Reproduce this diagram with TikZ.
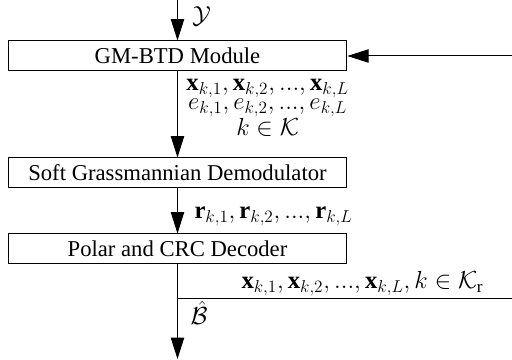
\RequirePackage{fix-cm}
\documentclass[tikz,border=0pt]{standalone}
\usepackage{fontspec}
\setmainfont{Liberation Serif}
\usetikzlibrary{arrows.meta}

\tikzset{every picture/.style={line width=0.75pt}}
\tikzset{
  blk/.style={draw, minimum width=254pt, minimum height=22.5pt, inner sep=0pt, font=\fontsize{17}{20}\selectfont},
  lbl/.style={inner sep=0.75pt, font=\fontsize{18.5}{13}\selectfont},
  arr/.style={-{Triangle[width=10pt,length=16pt]}}
}

\begin{document}
\begin{tikzpicture}[x=0.75pt,y=0.75pt,yscale=-1,xscale=1]
\path[use as bounding box] (0,0) rectangle (512,360);

%Shape: Rectangle
\node[blk] (gm) at (177.5,56) {GM-BTD Module};
%Shape: Rectangle
\node[blk] (sgd) at (177.5,173) {Soft Grassmannian Demodulator};
%Shape: Rectangle
\node[blk] (dec) at (177.5,249) {Polar and CRC Decoder};

\coordinate (in) at (177.5,0);
\coordinate (out) at (177.5,359);
\coordinate (tap) at (177.5,299);
\coordinate (rb) at (516,299);
\coordinate (rt) at (516,56);

%Straight Lines
\draw[arr] (in) -- (gm.north);
\draw[arr] (gm.south) -- (sgd.north);
\draw[arr] (sgd.south) -- (dec.north);
\draw[arr] (dec.south) -- (out);
%feedback path
\draw (tap) -- (rb) -- (rt);
\draw[arr] (rt) -- (gm.east);

% Text Node
\node[lbl, anchor=west] (ylbl) at (191,16) {$\mathcal{Y}$};
% Text Node
\node[lbl, anchor=west, align=center] (xelbl) at (185,108) {$\mathbf{x}_{k,1},\mathbf{x}_{k,2},...,\mathbf{x}_{k,L}$\\$e_{k,1},e_{k,2},...,e_{k,L}$\\$k\in\mathcal{K}$};
% Text Node
\node[lbl, anchor=west] (rlbl) at (193,216) {$\mathbf{r}_{k,1},\mathbf{r}_{k,2},...,\mathbf{r}_{k,L}$};
% Text Node
\node[lbl, anchor=south west] (xrlbl) at (240,297) {$\mathbf{x}_{k,1},\mathbf{x}_{k,2},...,\mathbf{x}_{k,L},k\in\mathcal{K}_{\mathrm{r}}$};
% Text Node
\node[lbl, anchor=west] (blbl) at (189,313) {$\hat{\mathcal{B}}$};

\end{tikzpicture}
\end{document}
